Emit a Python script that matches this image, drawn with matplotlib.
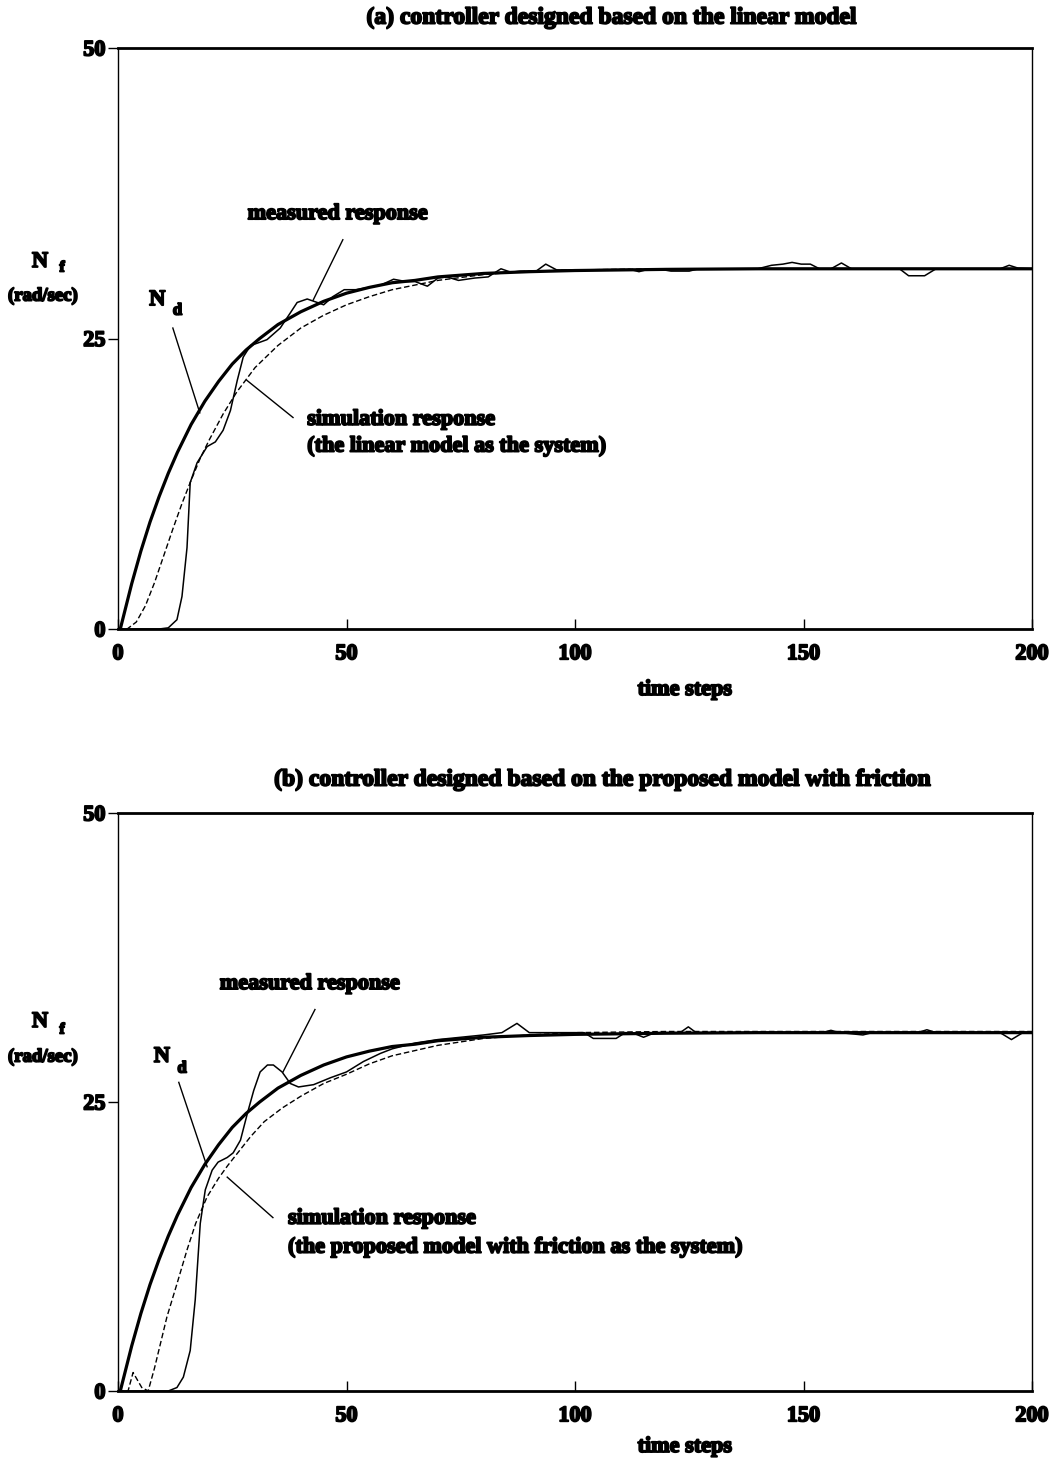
import matplotlib
matplotlib.use("Agg")
import matplotlib.pyplot as plt
import matplotlib.patheffects as pe

plt.rcParams['font.family'] = ['Liberation Serif', 'DejaVu Serif']
plt.rcParams['font.weight'] = 'bold'

# desired response N_d (same reference trajectory in both runs)
t_nd = [0, 0.5, 3, 5, 7, 9, 11, 13, 16, 19, 22, 25, 28, 31, 35, 40, 45, 50,
        55, 60, 65, 70, 80, 90, 100, 120, 140, 160, 180, 200]
nd = [0, 0, 3.9, 6.7, 9.2, 11.4, 13.4, 15.2, 17.6, 19.6, 21.3, 22.8, 24.0, 25.0,
      26.2, 27.3, 28.2, 28.9, 29.4, 29.8, 30.0, 30.3, 30.6, 30.75, 30.85, 30.95,
      31.0, 31.0, 31.0, 31.0]

# (a) linear-model controller
t_sim_a = [0, 2, 4, 6, 8, 10, 12, 14, 16, 18, 20, 23, 26, 30, 35, 40, 45, 50,
           55, 60, 70, 80, 90, 100, 120, 200]
sim_a = [0, 0, 0.6, 2.0, 4.0, 6.3, 8.6, 10.8, 12.8, 14.7, 16.3, 18.5, 20.4, 22.5,
         24.4, 25.9, 27.0, 27.9, 28.6, 29.2, 30.0, 30.5, 30.8, 30.9, 31.0, 31.0]

t_meas_a = [0, 9, 11, 12.9, 14, 15.1, 15.8, 17.3, 19.5, 21.3, 23, 24.6, 26.1,
            27.4, 29, 30.5, 32.6, 35.5, 37.7, 39.2, 41.4, 43.6, 45, 47, 49.5, 52,
            55, 57.5, 60.3, 63, 65, 67.7, 70, 72, 74.5, 78, 81, 83.8, 86, 88,
            91.5, 93.6, 96, 100, 112, 114, 116, 118, 121, 125, 127, 140, 143,
            145.5, 147.5, 149.5, 151.5, 153.5, 156, 158.3, 160.5, 171, 173,
            176.5, 179, 193, 195, 197, 200]
meas_a = [0, 0, 0.1, 0.8, 2.8, 7.0, 12.6, 14.3, 15.7, 16.1, 17.1, 18.8, 21.4,
          23.4, 24.4, 24.6, 24.9, 25.9, 27.2, 28.1, 28.4, 28.1, 27.9, 28.6, 29.2,
          29.2, 29.4, 29.6, 30.1, 29.9, 29.9, 29.5, 30.2, 30.3, 30.0, 30.2, 30.3,
          31.0, 30.7, 30.8, 30.8, 31.4, 30.9, 30.9, 30.95, 30.75, 30.95, 31.0,
          30.8, 30.8, 31.0, 31.0, 31.3, 31.4, 31.55, 31.4, 31.4, 31.0, 31.0,
          31.5, 31.0, 31.0, 30.4, 30.4, 31.0, 31.0, 31.3, 31.05, 31.0]

# (b) controller from the friction model
t_sim_b = [0, 2.2, 3.3, 5.2, 6.6, 8, 10.7, 13, 15.1, 17, 19.5, 22, 24, 26, 29,
           32, 36, 40, 45, 50, 55, 60, 70, 80, 90, 100, 120, 200]
sim_b = [0, 0, 1.6, 0.3, 0, 2.0, 6.4, 9.4, 12.2, 14.5, 16.8, 18.4, 19.5, 20.5,
         22.0, 23.3, 24.5, 25.5, 26.6, 27.4, 28.3, 29.0, 29.9, 30.5, 30.8, 31.0,
         31.1, 31.1]

t_meas_b = [0, 11, 12.9, 14.3, 15.8, 16.9, 18, 19.1, 20.6, 21.9, 23.9, 25.2, 26.8,
            28.3, 29.7, 31.1, 32.7, 34, 35.9, 37.7, 39.5, 42.8, 46.5, 50, 53.7,
            57.4, 60, 65, 70, 75, 80, 84, 87.3, 90, 102, 104, 109, 111, 112.5,
            115, 117.5, 123, 124.8, 126.5, 154, 156, 158, 163, 165, 175, 177,
            179, 193, 195.5, 198, 200]
meas_b = [0, 0, 0.3, 1.2, 3.5, 7.9, 14.5, 17.4, 19.1, 19.8, 20.2, 20.6, 21.7,
          24.0, 26.0, 27.6, 28.2, 28.2, 27.6, 26.6, 26.3, 26.5, 27.1, 27.6, 28.5,
          29.2, 29.6, 30.1, 30.4, 30.6, 30.8, 31.0, 31.8, 31.0, 31.0, 30.5, 30.5,
          31.0, 31.0, 30.6, 31.0, 31.0, 31.5, 31.0, 31.0, 31.2, 31.0, 30.8, 31.0,
          31.0, 31.25, 31.0, 31.0, 30.4, 31.0, 31.0]

x_ticks = [0, 50, 100, 150, 200]
y_ticks = [0, 25, 50]

W, H = 1051, 1462
fig = plt.figure(figsize=(W / 100, H / 100), dpi=100)
heavy = [pe.withStroke(linewidth=1.3, foreground='black')]


def ftext(px, py, s, size, **kw):
    return fig.text(px / W, 1 - py / H, s, fontsize=size, fontweight='bold',
                    path_effects=heavy, **kw)


def panel(top_px, bottom_px, t_sim, sim, t_meas, meas):
    ax = fig.add_axes([118 / W, 1 - bottom_px / H, 914 / W, (bottom_px - top_px) / H])
    ax.plot(t_sim, sim, color='black', lw=1.0, dashes=(4, 2))
    ax.plot(t_meas, meas, color='black', lw=1.1)
    ax.plot(t_nd, nd, color='black', lw=2.3, solid_capstyle='round')
    ax.set_xlim(0, 200)
    ax.set_ylim(0, 50)
    ax.set_xticks(x_ticks)
    ax.set_yticks(y_ticks)
    ax.tick_params(axis='x', direction='in', length=7, width=1, pad=11, labelsize=16)
    ax.tick_params(axis='y', direction='out', length=7, width=1, pad=2, labelsize=16)
    for lab in ax.get_xticklabels() + ax.get_yticklabels():
        lab.set_fontweight('bold')
        lab.set_path_effects(heavy)
    for side in ['top', 'bottom']:
        ax.spines[side].set_linewidth(2.0)
    for side in ['left', 'right']:
        ax.spines[side].set_linewidth(1.0)
    return ax


def note(ax, x, y, s, size=16, **kw):
    ax.text(x, y, s, fontsize=size, fontweight='bold', path_effects=heavy,
            clip_on=False, **kw)


def leader(ax, x0, y0, x1, y1):
    ax.plot([x0, x1], [y0, y1], color='black', lw=1.0, clip_on=False)


# ---- panel (a)
ax1 = panel(48, 629, t_sim_a, sim_a, t_meas_a, meas_a)
note(ax1, 48.1, 35.7, 'measured response', ha='center', va='center')
leader(ax1, 49.2, 33.5, 42.7, 28.3)
note(ax1, 8.6, 28.3, 'N', size=16, ha='center', va='center')
note(ax1, 13.0, 27.4, 'd', size=12, ha='center', va='center')
leader(ax1, 12.0, 25.9, 17.9, 18.6)
note(ax1, 41.4, 18.0, 'simulation response', ha='left', va='center')
note(ax1, 41.4, 15.7, '(the linear model as the system)', ha='left', va='center')
leader(ax1, 28.2, 21.4, 38.3, 18.2)

ftext(612, 18, '(a) controller designed based on the linear model', 17,
      ha='center', va='center')
ftext(40, 262, 'N', 16, ha='center', va='center')
ftext(62, 268, 'f', 11, ha='center', va='center')
ftext(43, 296, '(rad/sec)', 13.5, ha='center', va='center')
ftext(685, 690, 'time steps', 16, ha='center', va='center')

# ---- panel (b)
ax2 = panel(813, 1391, t_sim_b, sim_b, t_meas_b, meas_b)
note(ax2, 42.0, 35.2, 'measured response', ha='center', va='center')
leader(ax2, 43.1, 33.0, 36.1, 27.6)
note(ax2, 9.6, 28.9, 'N', size=16, ha='center', va='center')
note(ax2, 14.0, 27.9, 'd', size=12, ha='center', va='center')
leader(ax2, 13.3, 26.7, 19.5, 19.4)
note(ax2, 37.2, 14.9, 'simulation response', ha='left', va='center')
note(ax2, 37.2, 12.4, '(the proposed model with friction as the system)',
     ha='left', va='center')
leader(ax2, 23.9, 18.5, 33.9, 15.0)

ftext(603, 780, '(b) controller designed based on the proposed model with friction', 17,
      ha='center', va='center')
ftext(40, 1022, 'N', 16, ha='center', va='center')
ftext(62, 1030, 'f', 11, ha='center', va='center')
ftext(43, 1057, '(rad/sec)', 13.5, ha='center', va='center')
ftext(685, 1447, 'time steps', 16, ha='center', va='center')

fig.savefig('out.png', dpi=100)
